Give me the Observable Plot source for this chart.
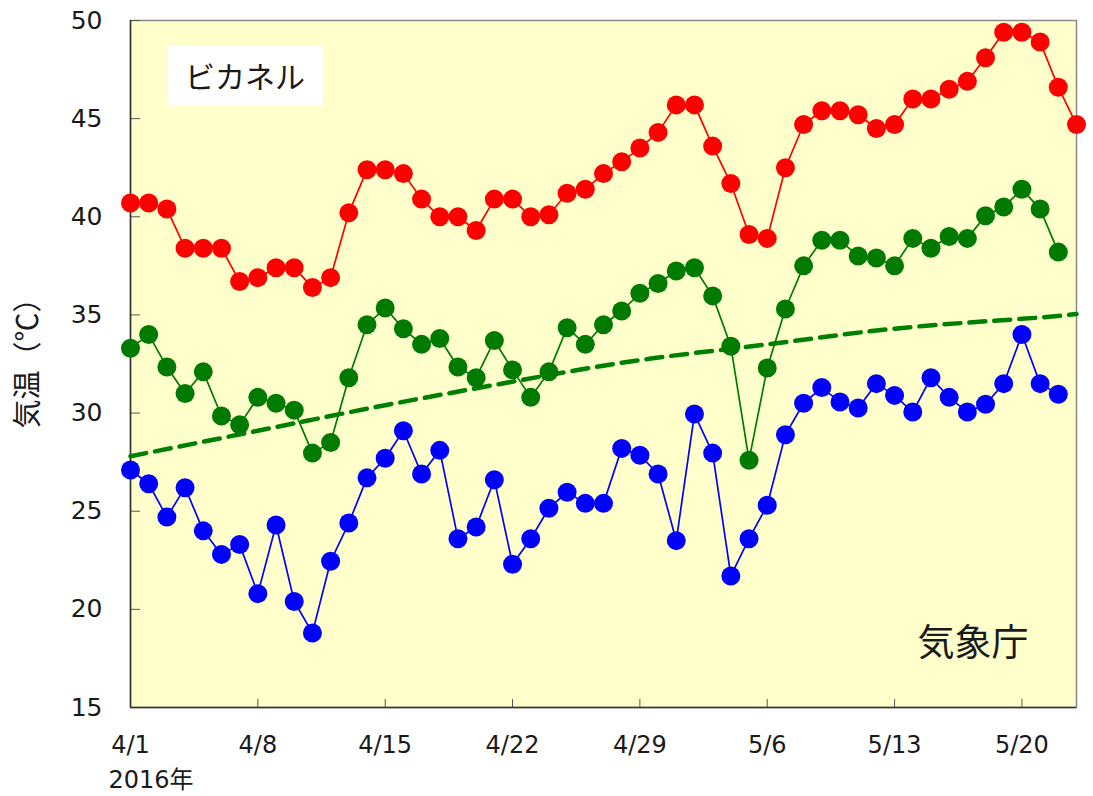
<!DOCTYPE html>
<html>
<head>
<meta charset="utf-8">
<script src="https://cdn.jsdelivr.net/npm/d3@7"></script>
<script src="https://cdn.jsdelivr.net/npm/@observablehq/plot@0.6"></script>
<style>
  html, body { margin: 0; padding: 0; background: #fff; }
  #wrap { position: relative; width: 1093px; height: 796px; }
  .box { position: absolute; background: #fff; font-family: "Noto Sans CJK JP", sans-serif; color: #1a1a1a; }
</style>
</head>
<body>
<div id="wrap"></div>
<script>
// ---- data ----
const startDate = new Date(Date.UTC(2016, 3, 1));
const endDate = new Date(Date.UTC(2016, 4, 23));
// ビカネル (red), 4/1 .. 5/23
const bikaner = [40.7, 40.7, 40.4, 38.4, 38.4, 38.4, 36.7, 36.9, 37.4, 37.4,
  36.4, 36.9, 40.2, 42.4, 42.4, 42.2, 40.9, 40.0, 40.0, 39.3,
  40.9, 40.9, 40.0, 40.1, 41.2, 41.4, 42.2, 42.8, 43.5, 44.3,
  45.7, 45.7, 43.6, 41.7, 39.1, 38.9, 42.5, 44.7, 45.4, 45.4,
  45.2, 44.5, 44.7, 46.0, 46.0, 46.5, 46.9, 48.1, 49.4, 49.4,
  48.9, 46.6, 44.7];
// green series, 4/1 .. 5/22
const greenSeries = [33.3, 34.0, 32.35, 31.0, 32.1, 29.85, 29.4, 30.8, 30.5, 30.15,
  27.96, 28.5, 31.8, 34.5, 35.35, 34.3, 33.5, 33.8, 32.35, 31.8,
  33.7, 32.2, 30.8, 32.1, 34.35, 33.5, 34.5, 35.2, 36.1, 36.6,
  37.24, 37.4, 35.97, 33.4, 27.6, 32.3, 35.3, 37.5, 38.8, 38.8,
  38.0, 37.9, 37.5, 38.9, 38.4, 39.0, 38.9, 40.05, 40.5, 41.4,
  40.4, 38.2];
// 気象庁 (blue), 4/1 .. 5/22
const jma = [27.1, 26.4, 24.7, 26.2, 24.0, 22.8, 23.3, 20.8, 24.3, 20.4,
  18.8, 22.45, 24.4, 26.7, 27.7, 29.1, 26.9, 28.1, 23.6, 24.2,
  26.6, 22.3, 23.6, 25.15, 25.97, 25.4, 25.4, 28.2, 27.85, 26.9,
  23.5, 29.95, 27.96, 21.7, 23.6, 25.3, 28.9, 30.5, 31.3, 30.56,
  30.26, 31.5, 30.9, 30.05, 31.8, 30.8, 30.05, 30.45, 31.5, 34.0,
  31.5, 30.96];
// dashed trend line, read at day offsets from 4/1
const trendDays = [0, 7, 14, 21, 28, 35, 42, 49, 52];
const trendValues = [27.8, 29.1, 30.4, 31.6, 32.7, 33.5, 34.3, 34.8, 35.05];
const xTickDays = [0, 7, 14, 21, 28, 35, 42, 49];
const yTicks = [15, 20, 25, 30, 35, 40, 45, 50];

const dayOf = i => d3.utcDay.offset(startDate, i);
const toRows = vals => vals.map((v, i) => ({date: dayOf(i), value: v}));
const redRows = toRows(bikaner);
const greenRows = toRows(greenSeries);
const blueRows = toRows(jma);
const trendRows = trendDays.map((d, i) => ({date: dayOf(d), value: trendValues[i]}));
const xTicks = xTickDays.map(dayOf);

const latin = '"DejaVu Sans", "Noto Sans CJK JP", sans-serif';
const cjk = '"Noto Sans CJK JP", sans-serif';

const chart = Plot.plot({
  width: 1093,
  height: 796,
  marginLeft: 130,
  marginRight: 17,
  marginTop: 20,
  marginBottom: 89,
  style: {fontFamily: latin, background: "#fff", color: "#1a1a1a", overflow: "visible"},
  x: {type: "utc", domain: [startDate, endDate]},
  y: {domain: [15, 50]},
  marks: [
    Plot.frame({fill: "#FFFFCC", stroke: "#8a8a8a", strokeWidth: 1.5}),
    Plot.axisY({ticks: yTicks, tickSize: -10, tickPadding: 38, fontSize: 25, stroke: "#555", fill: "#1a1a1a", label: null}),
    Plot.axisX({ticks: xTicks, tickSize: -8, tickPadding: 36, fontSize: 24, stroke: "#555", fill: "#1a1a1a", label: null,
      tickFormat: d => `${d.getUTCMonth() + 1}/${d.getUTCDate()}`}),
    Plot.ruleX([startDate], {stroke: "#333", strokeWidth: 1.5}),
    Plot.ruleY([15], {stroke: "#333", strokeWidth: 1.5}),
    Plot.line(trendRows, {x: "date", y: "value", stroke: "#008000", strokeWidth: 4.5, strokeDasharray: "16,9", curve: "natural"}),
    Plot.line(redRows, {x: "date", y: "value", stroke: "#FF0000", strokeWidth: 1.7}),
    Plot.dot(redRows, {x: "date", y: "value", r: 9.5, fill: "#FF0000"}),
    Plot.line(greenRows, {x: "date", y: "value", stroke: "#007A00", strokeWidth: 1.7}),
    Plot.dot(greenRows, {x: "date", y: "value", r: 9.5, fill: "#007A00"}),
    Plot.line(blueRows, {x: "date", y: "value", stroke: "#0000FF", strokeWidth: 1.7}),
    Plot.dot(blueRows, {x: "date", y: "value", r: 9.5, fill: "#0000FF"}),
    Plot.text(["気温（℃）"], {frameAnchor: "left", dx: -102, dy: -8, rotate: -90, textAnchor: "middle", lineAnchor: "middle", fontSize: 29, fontFamily: cjk, fill: "#1a1a1a"}),
    Plot.text(["2016年"], {frameAnchor: "bottom-left", dx: -22, dy: 73, textAnchor: "start", lineAnchor: "middle", fontSize: 24, fill: "#1a1a1a"}),
    Plot.text(["気象庁"], {frameAnchor: "bottom-right", dx: -48, dy: -63, textAnchor: "end", lineAnchor: "middle", fontSize: 37, fontFamily: cjk, fill: "#1a1a1a"})
  ]
});

const wrap = document.getElementById("wrap");
wrap.appendChild(chart);
const label = document.createElement("div");
label.className = "box";
label.textContent = "ビカネル";
Object.assign(label.style, {left: "168px", top: "46px", width: "155px", height: "59px",
  fontSize: "30px", lineHeight: "59px", paddingLeft: "17px", boxSizing: "border-box"});
wrap.appendChild(label);
</script>
</body>
</html>
